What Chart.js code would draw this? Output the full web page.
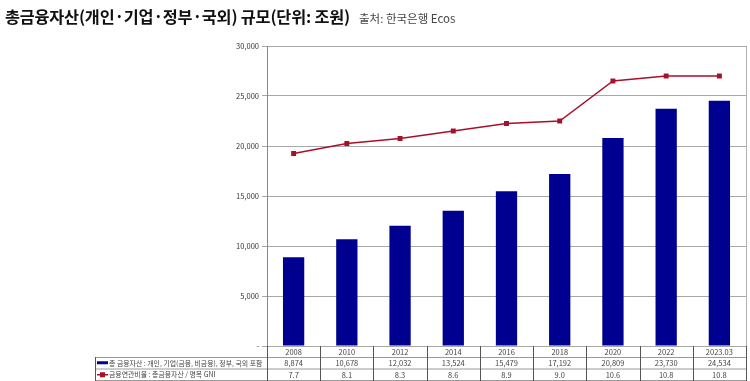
<!DOCTYPE html>
<html>
<head>
<meta charset="utf-8">
<script src="https://cdn.jsdelivr.net/npm/chart.js@4"></script>
<style>
  html,body{margin:0;padding:0;background:#fff;}
  #wrap{position:relative;width:750px;height:381px;overflow:hidden;}
  #title{position:absolute;left:5px;top:4px;font-family:"Noto Sans CJK KR","Noto Sans",sans-serif;font-weight:bold;font-size:16.3px;color:#111;white-space:nowrap;letter-spacing:-0.2px;}
  #src{font-weight:normal;font-size:11.5px;color:#444;margin-left:9px;letter-spacing:0;}
  canvas{position:absolute;left:0;top:0;}
</style>
</head>
<body>
<div id="wrap">
  <canvas id="c" width="750" height="381"></canvas>
  <div id="title">총금융자산(개인·기업·정부·국외) 규모(단위: 조원)<span id="src">출처: 한국은행 Ecos</span></div>
</div>
<script>
const categories = ['2008','2010','2012','2014','2016','2018','2020','2022','2023.03'];
const totalAssets = [8874,10678,12032,13524,15479,17192,20809,23730,24534];
const ratio = [7.7,8.1,8.3,8.6,8.9,9.0,10.6,10.8,10.8];
const ratioLabels = ['7.7','8.1','8.3','8.6','8.9','9.0','10.6','10.8','10.8'];
const assetsName = '총 금융자산 : 개인, 기업(금융, 비금융), 정부, 국외 포함';
const ratioName = '금융연관비율 : 총금융자산 / 명목 GNI';

const BAR = '#000090';
const LINE = '#A8102A';
const FONT = '"Noto Sans CJK KR","Noto Sans",sans-serif';

const tablePlugin = {
  id: 'table',
  afterDraw(chart) {
    const ctx = chart.ctx;
    const ca = chart.chartArea;
    const xs = chart.scales.x;
    const n = categories.length;
    const step = (ca.right - ca.left) / n;
    const y0 = ca.bottom, y1 = 357, y2 = 368.5, y3 = 380;
    const hl = 95;
    ctx.save();
    ctx.strokeStyle = '#b0b0b0';
    ctx.lineWidth = 1;
    ctx.beginPath();
    ctx.moveTo(ca.right + 0.5, ca.top);
    ctx.lineTo(ca.right + 0.5, ca.bottom);
    ctx.stroke();
    ctx.strokeStyle = '#9a9a9a';
    ctx.beginPath();
    [y1, y2, y3].forEach(y => { ctx.moveTo(hl, y + 0.5); ctx.lineTo(ca.right + 1, y + 0.5); });
    ctx.stroke();
    ctx.strokeStyle = '#555';
    ctx.beginPath();
    ctx.moveTo(hl + 0.5, y1); ctx.lineTo(hl + 0.5, y3 + 1);
    for (let i = 0; i <= n; i++) {
      const x = Math.round(ca.left + i * step) + 0.5;
      ctx.moveTo(x, y0); ctx.lineTo(x, y3 + 1);
    }
    ctx.stroke();
    ctx.fillStyle = '#444';
    ctx.font = '7.5px ' + FONT;
    ctx.textAlign = 'center';
    ctx.textBaseline = 'middle';
    for (let i = 0; i < n; i++) {
      const x = xs.getPixelForValue(i);
      ctx.fillText(categories[i], x, (y0 + y1) / 2 + 0.5);
      ctx.fillText(totalAssets[i].toLocaleString('en-US'), x, (y1 + y2) / 2 + 0.5);
      ctx.fillText(ratioLabels[i], x, (y2 + y3) / 2 + 0.5);
    }
    ctx.textAlign = 'left';
    ctx.font = '6.9px ' + FONT;
    ctx.fillText(assetsName, 109, (y1 + y2) / 2 + 0.5);
    ctx.fillText(ratioName, 109, (y2 + y3) / 2 + 0.5);
    ctx.fillStyle = BAR;
    ctx.fillRect(97, (y1 + y2) / 2 - 1.5, 11, 3);
    ctx.strokeStyle = LINE;
    ctx.lineWidth = 1.5;
    ctx.beginPath();
    ctx.moveTo(97, (y2 + y3) / 2 + 0.5); ctx.lineTo(108, (y2 + y3) / 2 + 0.5);
    ctx.stroke();
    ctx.fillStyle = LINE;
    ctx.fillRect(100, (y2 + y3) / 2 - 2, 5, 5);
    ctx.restore();
  }
};

new Chart(document.getElementById('c'), {
  data: {
    labels: categories,
    datasets: [
      {
        type: 'line',
        label: ratioName,
        data: ratio,
        yAxisID: 'y2',
        borderColor: LINE,
        backgroundColor: LINE,
        borderWidth: 1.5,
        pointStyle: 'rect',
        pointRadius: 3.5,
        pointBorderWidth: 0,
        tension: 0,
        order: 0
      },
      {
        type: 'bar',
        label: assetsName,
        data: totalAssets,
        yAxisID: 'y',
        backgroundColor: BAR,
        borderWidth: 0,
        barPercentage: 0.4,
        categoryPercentage: 1.0,
        order: 1
      }
    ]
  },
  options: {
    responsive: false,
    animation: false,
    devicePixelRatio: 1,
    layout: { padding: { left: 0, right: 2, top: 46, bottom: 35 } },
    plugins: { legend: { display: false }, tooltip: { enabled: false } },
    scales: {
      x: { display: false, offset: true },
      y: {
        position: 'left',
        min: 0, max: 30000,
        afterFit(s) { s.width = 267; },
        ticks: {
          stepSize: 5000,
          color: '#333',
          padding: 3,
          font: { size: 7.5, family: FONT },
          callback: v => v === 0 ? '-' : v.toLocaleString('en-US')
        },
        grid: { color: '#a8a8a8', tickLength: 5, lineWidth: 1 },
        border: { color: '#888', width: 1 }
      },
      y2: { display: false, min: 0, max: 12 }
    }
  },
  plugins: [tablePlugin]
});
</script>
</body>
</html>
